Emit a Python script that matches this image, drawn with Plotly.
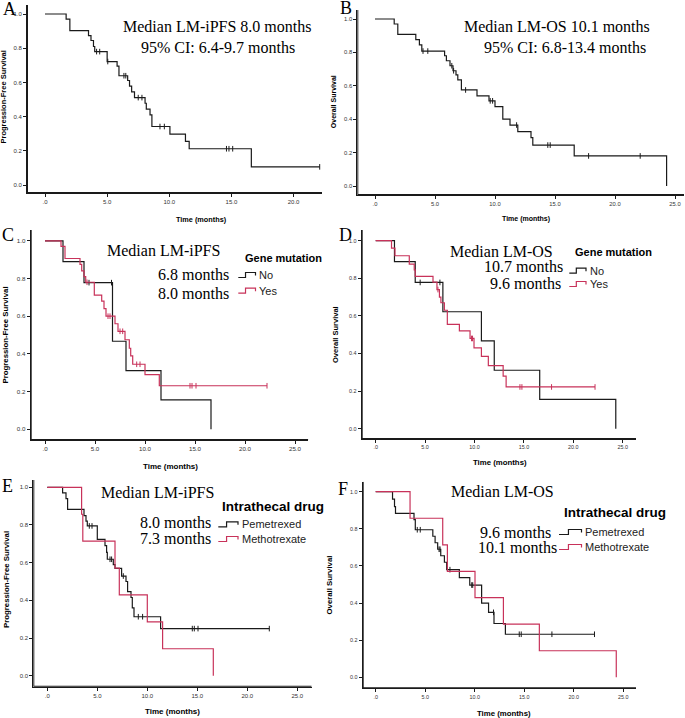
import plotly.graph_objects as go

W, H = 685, 718


def fx(x):
    return x / W


def fy(y):
    return 1 - y / H


BLACK = "#1a1a1a"
AXIS = "#1a1a1a"
RED = "#c8325a"
SERIF = "Liberation Serif"
SANS = "Liberation Sans"

# ---------------- data (months / survival proportion) ----------------
# A: overall LM-iPFS
A_t = [1.7, 2.0, 3.5, 3.7, 3.9, 4.0, 5.0, 5.8, 5.95, 6.65, 6.8, 6.97, 7.2, 8.05, 8.15, 8.45, 8.6, 10.05, 11.3, 11.6, 16.6]
A_s = [0.97, 0.903, 0.874, 0.845, 0.81, 0.78, 0.722, 0.695, 0.639, 0.611, 0.578, 0.545, 0.511, 0.478, 0.444, 0.41, 0.342, 0.297, 0.255, 0.212, 0.106]
A_c = [4.15, 4.4, 5.05, 6.35, 6.5, 7.5, 7.8, 9.25, 9.6, 14.6, 14.8, 15.1, 22.1]

# B: overall LM-OS
B_t = [1.6, 1.9, 3.4, 3.7, 3.9, 5.8, 5.95, 6.25, 6.5, 6.75, 6.9, 7.2, 8.5, 9.5, 10.0, 10.65, 11.25, 11.9, 13.0, 13.15, 16.6, 24.3]
B_s = [0.97, 0.908, 0.876, 0.845, 0.808, 0.78, 0.75, 0.72, 0.69, 0.665, 0.635, 0.575, 0.54, 0.51, 0.475, 0.40, 0.365, 0.325, 0.29, 0.245, 0.18, 0.0]
B_c = [4.0, 4.4, 6.4, 6.55, 7.55, 9.6, 9.8, 11.8, 14.4, 14.6, 17.8, 22.1]

# C: LM-iPFS by gene mutation
C_no_t = [1.8, 3.9, 6.75, 8.1, 11.6, 16.6]
C_no_s = [0.889, 0.778, 0.467, 0.311, 0.156, 0.0]
C_no_c = [4.4, 6.65]
C_yes_t = [1.6, 2.0, 3.5, 3.67, 3.9, 4.07, 4.93, 5.67, 5.9, 6.1, 7.0, 7.3, 8.0, 8.43, 8.57, 8.77, 10.0, 11.43]
C_yes_s = [0.97, 0.906, 0.875, 0.84, 0.81, 0.78, 0.712, 0.68, 0.64, 0.60, 0.56, 0.52, 0.475, 0.43, 0.39, 0.345, 0.29, 0.231]
C_yes_c = [4.2, 6.3, 6.5, 7.5, 7.77, 9.17, 9.5, 14.5, 14.7, 15.1, 22.2]

# D: LM-OS by gene mutation
D_no_t = [1.9, 4.0, 6.8, 10.7, 12.0, 16.6, 24.3]
D_no_s = [0.889, 0.778, 0.622, 0.467, 0.311, 0.156, 0.0]
D_no_c = [4.5, 6.5]
D_yes_t = [1.6, 1.95, 3.4, 3.9, 4.0, 5.8, 6.2, 6.45, 6.6, 6.95, 7.25, 8.47, 9.55, 9.95, 10.7, 11.4, 12.9, 13.2]
D_yes_s = [0.96, 0.92, 0.875, 0.845, 0.81, 0.78, 0.74, 0.70, 0.67, 0.63, 0.555, 0.52, 0.48, 0.43, 0.385, 0.335, 0.28, 0.222]
D_yes_c = [6.3, 9.7, 9.8, 14.6, 14.8, 17.8, 22.2]

# E: LM-iPFS by intrathecal drug
E_pem_t = [1.53, 1.87, 2.03, 3.67, 3.87, 4.0, 5.0, 5.77, 5.93, 6.0, 6.6, 6.77, 7.43, 7.87, 8.03, 8.37, 8.5, 8.67, 11.33]
E_pem_s = [0.97, 0.94, 0.883, 0.85, 0.82, 0.795, 0.724, 0.69, 0.655, 0.618, 0.59, 0.57, 0.529, 0.50, 0.446, 0.415, 0.36, 0.313, 0.25]
E_pem_c = [4.2, 4.47, 6.27, 6.43, 7.6, 9.1, 9.53, 14.5, 14.7, 15.07, 22.2]
E_mtx_t = [3.43, 3.55, 6.77, 7.2, 10.0, 11.53, 16.6]
E_mtx_s = [0.857, 0.714, 0.571, 0.429, 0.286, 0.143, 0.0]
E_mtx_c = []

# F: LM-OS by intrathecal drug
F_pem_t = [1.7, 1.9, 2.0, 3.87, 4.0, 5.77, 6.0, 6.26, 6.57, 6.94, 7.17, 8.45, 9.5, 10.7, 11.4, 11.95, 13.1]
F_pem_s = [0.96, 0.92, 0.883, 0.85, 0.795, 0.76, 0.725, 0.69, 0.655, 0.62, 0.58, 0.537, 0.497, 0.40, 0.35, 0.29, 0.232]
F_pem_c = [4.2, 4.5, 6.4, 6.5, 7.5, 9.7, 9.8, 11.9, 14.5, 14.7, 17.8, 22.1]
F_mtx_t = [3.47, 6.77, 7.24, 10.03, 12.9, 16.53, 24.3]
F_mtx_s = [0.857, 0.714, 0.571, 0.429, 0.286, 0.143, 0.0]
F_mtx_c = []

Y_TICKS = [0.0, 0.2, 0.4, 0.6, 0.8, 1.0]
Y_TEXT = ["0.0", "0.2", "0.4", "0.6", "0.8", "1.0"]
X_TICKS_A = [0, 5, 10, 15, 20]
X_TEXT_A = [".0", "5.0", "10.0", "15.0", "20.0"]
X_TICKS = [0, 5, 10, 15, 20, 25]
X_TEXT = [".0", "5.0", "10.0", "15.0", "20.0", "25.0"]


def km_xy(event_t, event_s, censor_t):
    xs = [0.0] + list(event_t)
    ys = [1.0] + list(event_s)
    if censor_t and max(censor_t) > xs[-1]:
        xs.append(max(censor_t))
        ys.append(ys[-1])
    return xs, ys


def surv_at(t, event_t, event_s):
    s = 1.0
    for et, es in zip(event_t, event_s):
        if et <= t:
            s = es
    return s


fig = go.Figure()
ann = []
shapes = []

# panel geometry in pixels: axis-box left/right/top/bottom, x origin px, px per month, y px of 1.0 and 0.0
panels = [
    dict(k="", box=(27, 322, 5, 193), x0=45, ppm=12.43, y1=14, y0=185, xt=(X_TICKS_A, X_TEXT_A), tf=6),
    dict(k="2", box=(357.3, 684, 10, 195), x0=375, ppm=12.0, y1=19, y0=186, xt=(X_TICKS, X_TEXT), tf=5.8),
    dict(k="3", box=(30.7, 308.3, 230, 440), x0=45, ppm=10.0, y1=240.8, y0=429.3, xt=(X_TICKS, X_TEXT), tf=6.2),
    dict(k="4", box=(361.7, 636, 230, 439), x0=375.7, ppm=9.88, y1=240.7, y0=428.7, xt=(X_TICKS, X_TEXT), tf=5.4),
    dict(k="5", box=(33.3, 311.7, 480, 686.7), x0=47.3, ppm=10.0, y1=487.3, y0=675.7, xt=(X_TICKS, X_TEXT), tf=6),
    dict(k="6", box=(362.7, 636, 481.7, 688.3), x0=375.7, ppm=9.9, y1=491.7, y0=677.3, xt=(X_TICKS, X_TEXT), tf=5.4),
]

TICK_PX = 3
layout_axes = {}
for p in panels:
    l, r, t, b = p["box"]
    ppm = p["ppm"]
    ppu = p["y0"] - p["y1"]
    xr = [(l - p["x0"]) / ppm, (r - p["x0"]) / ppm]
    yr = [-(b - p["y0"]) / ppu, 1 + (p["y1"] - t) / ppu]
    common = dict(showline=True, linecolor=AXIS, linewidth=1, ticks="outside", ticklen=TICK_PX,
                  tickwidth=1, tickcolor=AXIS, showgrid=False, zeroline=False, automargin=False,
                  tickfont=dict(family=SANS, size=p["tf"], color="#333"), fixedrange=True)
    k = p["k"]
    layout_axes["xaxis" + k] = dict(domain=[fx(l), fx(r)], range=xr, anchor="y" + k,
                                    tickmode="array", tickvals=p["xt"][0], ticktext=p["xt"][1], **common)
    layout_axes["yaxis" + k] = dict(domain=[fy(b), fy(t)], range=yr, anchor="x" + k,
                                    tickmode="array", tickvals=Y_TICKS, ticktext=Y_TEXT, **common)
    # axis frame drawn as a trace just inside the plot edge, plus outside tick marks as markers
    ex, ey = 0.4 / ppm, 0.4 / ppu
    fig.add_trace(go.Scatter(x=[xr[0] + ex, xr[0] + ex, xr[1]], y=[yr[1], yr[0] + ey, yr[0] + ey],
                             mode="lines", line=dict(color=AXIS, width=1.2), showlegend=False,
                             hoverinfo="skip", xaxis="x" + k, yaxis="y" + k, name="axis frame"))
    xt_vals = p["xt"][0]
    fig.add_trace(go.Scatter(x=xt_vals, y=[yr[0] - 1.3 / ppu] * len(xt_vals), mode="markers",
                             marker=dict(symbol="line-ns", size=2.6, line=dict(width=1.2, color=AXIS)),
                             cliponaxis=False, showlegend=False, hoverinfo="skip",
                             xaxis="x" + k, yaxis="y" + k, name="x ticks"))
    fig.add_trace(go.Scatter(x=[xr[0] - 1.3 / ppm] * len(Y_TICKS), y=Y_TICKS, mode="markers",
                             marker=dict(symbol="line-ew", size=2.6, line=dict(width=1.2, color=AXIS)),
                             cliponaxis=False, showlegend=False, hoverinfo="skip",
                             xaxis="x" + k, yaxis="y" + k, name="y ticks"))


def add_curve(k, name, t, s, c, color):
    xs, ys = km_xy(t, s, c)
    fig.add_trace(go.Scatter(x=xs, y=ys, mode="lines", line=dict(color=color, width=1.2, shape="hv"),
                             name=name, showlegend=False, xaxis="x" + k, yaxis="y" + k, hoverinfo="skip",
                             cliponaxis=False))
    if c:
        cy = [surv_at(ct, t, s) for ct in c]
        fig.add_trace(go.Scatter(x=c, y=cy, mode="markers", name=name + " censored", showlegend=False,
                                 marker=dict(symbol="line-ns", size=4, line=dict(width=1, color=color)),
                                 xaxis="x" + k, yaxis="y" + k, hoverinfo="skip", cliponaxis=False))


add_curve("", "All", A_t, A_s, A_c, BLACK)
add_curve("2", "All", B_t, B_s, B_c, BLACK)
add_curve("3", "No", C_no_t, C_no_s, C_no_c, BLACK)
add_curve("3", "Yes", C_yes_t, C_yes_s, C_yes_c, RED)
add_curve("4", "No", D_no_t, D_no_s, D_no_c, BLACK)
add_curve("4", "Yes", D_yes_t, D_yes_s, D_yes_c, RED)
add_curve("5", "Pemetrexed", E_pem_t, E_pem_s, E_pem_c, BLACK)
add_curve("5", "Methotrexate", E_mtx_t, E_mtx_s, E_mtx_c, RED)
add_curve("6", "Pemetrexed", F_pem_t, F_pem_s, F_pem_c, BLACK)
add_curve("6", "Methotrexate", F_mtx_t, F_mtx_s, F_mtx_c, RED)


def text(x, y, s, size, family=SERIF, bold=False, xanchor="center", angle=0, color="black"):
    ann.append(dict(x=fx(x), y=fy(y), xref="paper", yref="paper", text=s, showarrow=False,
                    xanchor=xanchor, yanchor="middle", textangle=angle,
                    font=dict(family=family, size=size, color=color, weight="bold" if bold else "normal")))


# panel letters
for lab, x, y in [("A", 9, 9), ("B", 346, 8), ("C", 8, 235), ("D", 345, 235), ("E", 8, 486), ("F", 343, 489)]:
    text(x, y, lab, 18)

# median annotations
text(217, 27, "Median LM-iPFS 8.0 months", 16)
text(218, 47, "95% CI: 6.4-9.7 months", 16)
text(557, 27, "Median LM-OS 10.1 months", 16)
text(565, 47, "95% CI: 6.8-13.4 months", 16)
text(163, 250, "Median LM-iPFS", 16)
text(193, 274, "6.8 months", 16)
text(193, 293, "8.0 months", 16)
text(501, 251, "Median LM-OS", 16)
text(523, 267, "10.7 months", 16)
text(525, 283, "9.6 months", 16)
text(157, 492, "Median LM-iPFS", 16)
text(175, 522, "8.0 months", 16)
text(175, 538, "7.3 months", 16)
text(502, 491, "Median LM-OS", 16)
text(515, 532, "9.6 months", 16)
text(517, 547, "10.1 months", 16)

# axis titles
for x, y, s, sz in [(201, 219.3, "Time (months)", 7.3), (525.7, 219.3, "Time (months)", 7),
                    (170.7, 466.5, "Time (months)", 8), (499.7, 462.7, "Time (months)", 7.8),
                    (172.7, 711.7, "Time (months)", 8), (504.3, 713.3, "Time (months)", 7.8)]:
    text(x, y, s, sz, family=SANS, bold=True)
for x, y, s, sz in [(3.5, 97, "Progression-Free Survival", 7.5), (333.5, 101.7, "Overall Survival", 7),
                    (4.5, 335, "Progression-Free Survival", 7.8), (335, 335, "Overall Survival", 7.5),
                    (6, 580, "Progression-Free Survival", 7.8), (328.5, 585, "Overall Survival", 7.8)]:
    text(x, y, s, sz, family=SANS, bold=True, angle=-90)


# legends (title + step-shaped symbols)
def legend(title, tx, ty, tsize, sx0, sx1, items):
    text(tx, ty, title, tsize, family=SANS, bold=True, xanchor="left")
    mid = sx0 + (sx1 - sx0) * 0.42
    for name, yy, color in items:
        path = "M {} {} L {} {} L {} {} L {} {} L {} {}".format(
            fx(sx0), fy(yy + 2.5), fx(mid), fy(yy + 2.5), fx(mid), fy(yy - 2.5),
            fx(sx1), fy(yy - 2.5), fx(sx1), fy(yy + 0.5))
        shapes.append(dict(type="path", path=path, xref="paper", yref="paper",
                           line=dict(color=color, width=1.2)))
        text(sx1 + 1.5, yy, name, 11, family=SANS, xanchor="left", color="#222")


legend("Gene mutation", 243, 258, 11, 238.3, 255.5, [("No", 275, BLACK), ("Yes", 290.7, RED)])
legend("Gene mutation", 573, 252, 11, 569.3, 586, [("No", 270.7, BLACK), ("Yes", 284, RED)])
legend("Intrathecal drug", 220, 506.7, 13.5, 218.3, 238, [("Pemetrexed", 524.3, BLACK), ("Methotrexate", 539, RED)])
legend("Intrathecal drug", 562, 512.7, 13.5, 559, 581.5, [("Pemetrexed", 532, BLACK), ("Methotrexate", 547, RED)])

fig.update_layout(template="none", width=W, height=H, margin=dict(l=0, r=0, t=0, b=0, pad=0),
                  paper_bgcolor="white", plot_bgcolor="white", showlegend=False,
                  annotations=ann, shapes=shapes, **layout_axes)

fig.write_html("out.html", config={"displayModeBar": False, "staticPlot": True},
               post_script="document.body.style.margin='0px';document.body.style.padding='0px';")
